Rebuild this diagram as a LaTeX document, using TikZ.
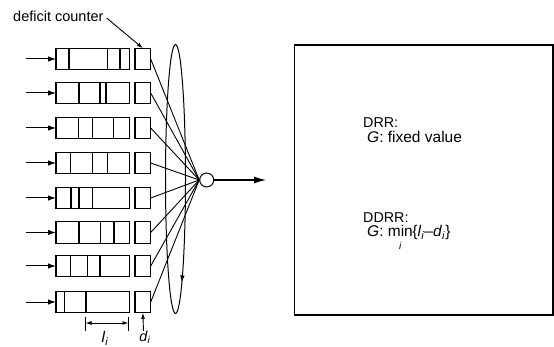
\documentclass[tikz,border=0pt]{standalone}
\usepackage{fontspec}
\setmainfont{Liberation Sans}
\usetikzlibrary{arrows.meta,shapes.geometric}
\begin{document}
\begin{tikzpicture}[x=1pt,y=-1pt,
  box/.style={draw,line width=1.1pt,minimum height=21.5pt,inner sep=0pt,outer sep=0pt},
  qbox/.style={box,minimum width=73.3pt},
  dbox/.style={box,minimum width=15.7pt},
  arr/.style={line width=1pt,-{Latex[length=8pt,width=5.5pt]}},
  bigarr/.style={line width=1.1pt,-{Latex[length=12pt,width=7pt]}},
  link/.style={line width=0.9pt},
  divider/.style={line width=1.1pt},
  lbl/.style={inner sep=0pt,font=\fontsize{14.3}{16}\selectfont},
  glbl/.style={inner sep=0pt,font=\fontsize{15.5}{18}\selectfont}]
\useasboundingbox (0,0) rectangle (554,347);
% ring
\node[draw,ellipse,line width=1pt,minimum width=20pt,minimum height=269pt,inner sep=0pt] (loop) at (175.5,179) {};
\draw[-{Latex[length=7pt,width=4.5pt]},line width=1pt] (182.4,275) -- (181.9,282.5);
% scheduler
\node[draw,circle,line width=1pt,minimum size=14pt,inner sep=0pt,fill=white] (sched) at (206.7,180) {};
\coordinate (out) at (266,180);
\draw[bigarr] (sched.east) -- (out);
% queues
\foreach \i/\y/\divs in {1/59/{69,107.3,120},2/93/{79,100,106},3/128/{78.3,92.3,113.3},4/163/{70.7,92.3,107.3},5/198/{71,79,92.3},6/232.5/{79,100.7,114},7/266/{70.7,87.3,100},8/302/{64.3,86}}{
  \node[qbox] (q\i) at (92.65,\y) {};
  \node[dbox] (d\i) at (142.85,\y) {};
  \foreach \d in \divs {\draw[divider] (\d,\y-10.75) -- (\d,\y+10.75);}
  \coordinate (in\i) at (26,\y);
  \draw[arr] (in\i) -- (q\i.west);
  \draw[link] (d\i.east) -- (sched.west);
}
% deficit counter label
\node[lbl,anchor=west,font=\fontsize{14.5}{16}\selectfont] (dc) at (13,16) {deficit counter};
\draw[line width=0.9pt,-{Latex[length=6pt,width=4pt]}] (dc.east) ++(3,2) coordinate (dcs) (dcs) -- (d1.north);
% l_i dimension
\coordinate (la) at (85.5,323);
\coordinate (lb) at (128.5,323);
\draw[line width=0.9pt] (85.5,316.5) -- (85.5,330.5) (128.5,316.5) -- (128.5,330.5);
\draw[line width=0.9pt,{Latex[length=6pt,width=4pt]}-{Latex[length=6pt,width=4pt]}] (la) -- (lb);
\node[glbl] (li) at (105,338.5) {\textit{l}\textsubscript{\textit{i}}};
% d_i
\coordinate (dtail) at (143.5,331);
\draw[line width=0.9pt,-{Latex[length=6pt,width=4pt]}] (dtail) -- (d8.south);
\node[lbl] (di) at (145,337.5) {\textit{d}\textsubscript{\textit{i}}};
% right panel
\node[draw,line width=1.2pt,minimum width=258.4pt,minimum height=270pt,inner sep=0pt] (panel) at (423.8,180) {};
\node[lbl,anchor=base west] (drr) at (363,127.7) {DRR:};
\node[glbl,anchor=base west] (drrg) at (367,143) {\textit{G}: fixed value};
\node[lbl,anchor=base west] (ddrr) at (363,222.2) {DDRR:};
\node[glbl,anchor=base west] (ddrrg) at (367,236.5) {\textit{G}: \begin{tabular}[t]{@{}c@{}}min\\[-5pt]{\fontsize{10}{10}\selectfont\textit{i}}\end{tabular}\kern-0.5pt\{\textit{l}\textsubscript{\textit{i}}–\textit{d}\textsubscript{\textit{i}}\}};
\end{tikzpicture}
\end{document}
